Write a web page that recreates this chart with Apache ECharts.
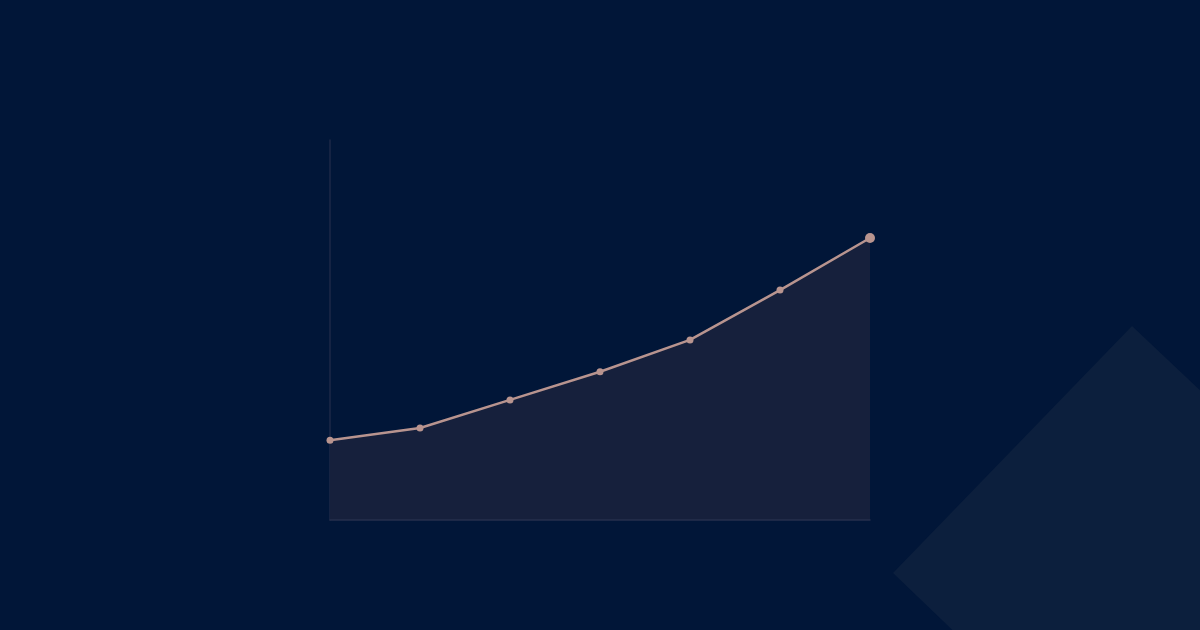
<!DOCTYPE html>
<html>
<head>
<meta charset="utf-8">
<title></title>
<script src="https://cdn.jsdelivr.net/npm/echarts@6/dist/echarts.min.js"></script>
<style>
    html, body { margin: 0; padding: 0; background: #011638; }
    #container { width: 1200px; height: 630px; }
</style>
</head>
<body>
<div id="container"></div>
<script>
    // data
    var steps = ['1', '2', '3', '4', '5', '6', '7'];
    var values = [21, 24.2, 31.6, 39, 47.4, 60.5, 74.2];
    var yMin = 0;
    var yMax = 100;

    var dom = document.getElementById('container');
    var myChart = echarts.init(dom, null, { renderer: 'canvas' });

    var option = {
        backgroundColor: '#011638',
        animation: false,
        graphic: [{
            type: 'polygon',
            z: -1,
            shape: {
                points: [[1132, 326], [1380, 560], [1140, 810], [893, 573]]
            },
            style: { fill: '#0c1f3d' }
        }],
        grid: { left: 330, right: 330, top: 140, bottom: 110 },
        xAxis: {
            type: 'category',
            data: steps,
            boundaryGap: false,
            z: 5,
            axisLine: { lineStyle: { color: '#262f4c', width: 1.5 } },
            axisTick: { show: false },
            axisLabel: { show: false }
        },
        yAxis: {
            type: 'value',
            min: yMin,
            max: yMax,
            axisLine: { show: true, lineStyle: { color: '#1c2947', width: 1.5 } },
            axisTick: { show: false },
            axisLabel: { show: false },
            splitLine: { show: false }
        },
        series: [{
            type: 'line',
            data: values.map(function (v, i) {
                if (i === values.length - 1) {
                    return { value: v, symbolSize: 10 };
                }
                return v;
            }),
            symbol: 'circle',
            symbolSize: 7,
            lineStyle: { color: '#b8948f', width: 2.5 },
            itemStyle: { color: '#b8948f' },
            areaStyle: { color: '#16203c', opacity: 1 }
        }]
    };
    myChart.setOption(option);
</script>
</body>
</html>
